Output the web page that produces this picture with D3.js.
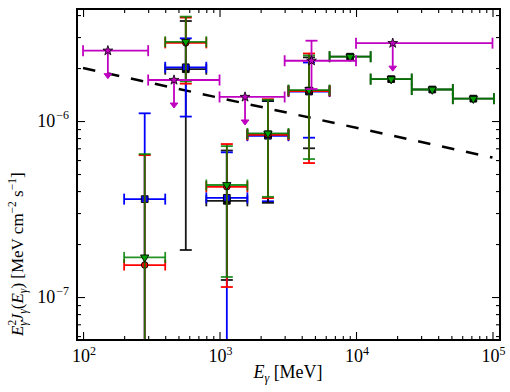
<!DOCTYPE html>
<html><head><meta charset="utf-8">
<script src="https://cdn.jsdelivr.net/npm/d3@7"></script>
<style>
body{margin:0;background:#fff}
svg{display:block}
text{font-family:"Liberation Serif","Times New Roman",serif;fill:#000}
</style>
</head><body>
<svg id="c" width="510" height="392"></svg>
<script>
// ---------- data ----------
const binE  = [283, 566, 1131, 2263, 4525, 9051, 18102, 36204, 72408];
const binLo = [200, 400, 800, 1600, 3200, 6400, 12800, 25600, 51200];
const binHi = [400, 800, 1600, 3200, 6400, 12800, 25600, 51200, 102400];
const OFF = 1e-9; // lower bound extends below the plotted range

const blackAVal = [null, 1.97e-6, 3.52e-7, null, null, null, null, null, null];
const blackAHi  = [null, 3.70e-6, 6.80e-7, null, null, null, null, null, null];
const blackALo  = [null, 1.85e-7, 1.25e-7, null, null, null, null, null, null];

const blueVal = [3.60e-7, 2.02e-6, 3.66e-7, 8.25e-7, 1.47e-6, null, null, null, null];
const blueHi  = [1.106e-6, 2.95e-6, 6.64e-7, 1.30e-6, 2.15e-6, null, null, null, null];
const blueLo  = [OFF, 1.06e-6, OFF, 3.50e-7, 8.04e-7, null, null, null, null];

const blackBVal = [null, null, null, 8.40e-7, 1.49e-6, 2.32e-6, 1.73e-6, 1.51e-6, 1.34e-6];
const blackBHi  = [null, null, null, 1.30e-6, 2.30e-6, null, null, null, null];
const blackBLo  = [null, null, null, 3.43e-7, 7.00e-7, null, null, null, null];

const redVal = [1.52e-7, 2.78e-6, 4.23e-7, 8.35e-7, 1.48e-6, null, null, null, null];
const redHi  = [6.40e-7, 3.87e-6, 7.40e-7, 1.33e-6, 2.42e-6, null, null, null, null];
const redLo  = [OFF, 1.63e-6, 1.14e-7, 3.65e-7, 5.77e-7, null, null, null, null];

const greenVal = [1.68e-7, 2.82e-6, 4.33e-7, 8.50e-7, 1.50e-6, 2.32e-6, 1.73e-6, 1.51e-6, 1.34e-6];
const greenHi  = [6.49e-7, 3.92e-6, 7.20e-7, 1.32e-6, 2.36e-6, null, null, null, null];
const greenLo  = [OFF, 1.68e-6, 1.30e-7, 3.71e-7, 6.08e-7, null, null, null, null];

// magenta: upper limits (stars with arrows) and one detection
const magE   = [152, 464, 1538, 4720, 18580];
const magLo  = [100, 300, 1000, 3000, 10000];
const magHi  = [300, 1000, 3000, 10000, 100000];
const magVal = [2.51e-6, 1.71e-6, 1.37e-6, 2.20e-6, 2.77e-6];
const magIsUL = [true, true, true, false, true];
const magErrHi = [null, null, null, 2.86e-6, null];
const magErrLo = [null, null, null, 1.52e-6, null];

// dashed model line
const lineE = [100, 100000];
const lineF = [2.0e-6, 6.2e-7];

// axis ticks
const xMajor = [1e2, 1e3, 1e4, 1e5];
const xMajorLabels = ["2", "3", "4", "5"];
const xMinor = [200,300,400,500,600,700,800,900,2000,3000,4000,5000,6000,7000,8000,9000,
                20000,30000,40000,50000,60000,70000,80000,90000];
const yMajor = [1e-7, 1e-6];
const yMajorLabels = ["\u22127", "\u22126"];
const yMinor = [6e-8,7e-8,8e-8,9e-8,2e-7,3e-7,4e-7,5e-7,6e-7,7e-7,8e-7,9e-7,2e-6,3e-6,4e-6];

// ---------- layout ----------
const L = 77, R = 500, T = 9, B = 340;
const svg = d3.select("#c");
const x = d3.scaleLog().domain([90.3, 113500]).range([L, R]);
const y = d3.scaleLog().domain([5.7e-8, 4.33e-6]).range([B, T]);

svg.append("defs").append("clipPath").attr("id","clip")
  .append("rect").attr("x",L).attr("y",T).attr("width",R-L).attr("height",B-T);

const plot = svg.append("g").attr("clip-path","url(#clip)");

// dashed line
plot.append("path")
  .datum(lineE.map((e,i)=>[e,lineF[i]]))
  .attr("d", d3.line().x(d=>x(d[0])).y(d=>y(d[1])))
  .attr("fill","none").attr("stroke","#000").attr("stroke-width",2.5)
  .attr("stroke-dasharray","12.5,12");

const LW = 1.8, CAPV = 6, CAPH = 5.5;

function hline(g, x1, x2, yy, color, op){
  g.append("line").attr("x1",x1).attr("x2",x2).attr("y1",yy).attr("y2",yy)
   .attr("stroke",color).attr("stroke-width",LW).attr("stroke-opacity",op);
}
function vline(g, xx, y1, y2, color, op){
  g.append("line").attr("x1",xx).attr("x2",xx).attr("y1",y1).attr("y2",y2)
   .attr("stroke",color).attr("stroke-width",LW).attr("stroke-opacity",op);
}

function drawSeries(vals, los, his, color, symType, symSize, fill, rot, op){
  const g = plot.append("g");
  vals.forEach((v,i)=>{
    if(v==null) return;
    const yy = y(v), xa = x(binLo[i]), xb = x(binHi[i]), xc = x(binE[i]);
    hline(g, xa, xb, yy, color, op);
    vline(g, xa, yy-CAPH, yy+CAPH, color, op);
    vline(g, xb, yy-CAPH, yy+CAPH, color, op);
    if(los[i]!=null){
      const y1 = y(los[i]), y2 = y(his[i]);
      vline(g, xc, y1, y2, color, op);
      hline(g, xc-CAPV, xc+CAPV, y1, color, op);
      hline(g, xc-CAPV, xc+CAPV, y2, color, op);
    }
  });
  vals.forEach((v,i)=>{
    if(v==null) return;
    g.append("path")
     .attr("d", d3.symbol().type(symType).size(symSize)())
     .attr("transform",`translate(${x(binE[i])},${y(v)}) rotate(${rot})`)
     .attr("fill",fill).attr("stroke","#000").attr("stroke-width",0.9);
  });
}

drawSeries(blackAVal, blackALo, blackAHi, "#000", d3.symbolSquare, 46, "#000", 0, 0.9);
drawSeries(blueVal, blueLo, blueHi, "#0000ff", d3.symbolSquare, 46, "#0000ff", 0, 1);
drawSeries(blackBVal, blackBLo, blackBHi, "#000", d3.symbolSquare, 46, "#000", 0, 0.9);
drawSeries(redVal, redLo, redHi, "#ff0000", d3.symbolCircle, 34, "#ff0000", 0, 1);
drawSeries(greenVal, greenLo, greenHi, "#008000", d3.symbolTriangle, 30, "#00a000", 180, 0.85);

// magenta
const MAG = "#c000c0";
const mg = plot.append("g");
magVal.forEach((v,i)=>{
  const yy = y(v), xa = x(magLo[i]), xb = x(magHi[i]), xc = x(magE[i]);
  hline(mg, xa, xb, yy, MAG, 1);
  vline(mg, xa, yy-CAPH, yy+CAPH, MAG, 1);
  vline(mg, xb, yy-CAPH, yy+CAPH, MAG, 1);
  if(magIsUL[i]){
    const tip = yy + 28;
    vline(mg, xc, yy, tip-3, MAG, 1);
    mg.append("path")
      .attr("d", `M${xc-3.8},${tip-5}L${xc+3.8},${tip-5}L${xc},${tip}Z`)
      .attr("fill",MAG).attr("stroke",MAG).attr("stroke-width",1).attr("stroke-linejoin","round");
  } else {
    const y1 = y(magErrLo[i]), y2 = y(magErrHi[i]);
    vline(mg, xc, y1, y2, MAG, 1);
    hline(mg, xc-CAPV, xc+CAPV, y2, MAG, 1);
    hline(mg, xc-CAPV, xc+CAPV, y1, MAG, 1);
  }
});
magVal.forEach((v,i)=>{
  mg.append("path")
    .attr("d", d3.symbol().type(d3.symbolStar).size(30)())
    .attr("transform",`translate(${x(magE[i])},${y(v)})`)
    .attr("fill",MAG).attr("stroke","#000").attr("stroke-width",0.8);
});

// ---------- axes (ticks inward on all sides) ----------
function addAxis(axisFn, scale, vals, size, tr){
  const g = svg.append("g").attr("transform",tr)
    .call(axisFn(scale).tickValues(vals).tickSize(size).tickFormat(""));
  g.select(".domain").remove();
  g.selectAll(".tick line").attr("stroke","#000").attr("stroke-width",1.1);
}
addAxis(d3.axisBottom, x, xMajor, -8, `translate(0,${B})`);
addAxis(d3.axisBottom, x, xMinor, -4, `translate(0,${B})`);
addAxis(d3.axisTop, x, xMajor, -8, `translate(0,${T})`);
addAxis(d3.axisTop, x, xMinor, -4, `translate(0,${T})`);
addAxis(d3.axisLeft, y, yMajor, -8, `translate(${L},0)`);
addAxis(d3.axisLeft, y, yMinor, -4, `translate(${L},0)`);
addAxis(d3.axisRight, y, yMajor, -8, `translate(${R},0)`);
addAxis(d3.axisRight, y, yMinor, -4, `translate(${R},0)`);

svg.append("rect").attr("x",L).attr("y",T).attr("width",R-L).attr("height",B-T)
  .attr("fill","none").attr("stroke","#000").attr("stroke-width",2);

// tick labels
const FS = 18, FSS = 12;
xMajor.forEach((v,i)=>{
  const t = svg.append("text").attr("x",x(v)+1).attr("y",362).attr("text-anchor","middle")
    .attr("font-size",FS);
  t.append("tspan").text("10");
  t.append("tspan").attr("font-size",FSS).attr("dy",-7).text(xMajorLabels[i]);
});
yMajor.forEach((v,i)=>{
  const t = svg.append("text").attr("x",69).attr("y",y(v)+6).attr("text-anchor","end")
    .attr("font-size",FS);
  t.append("tspan").text("10");
  t.append("tspan").attr("font-size",FSS).attr("dy",-8).attr("dx",1).text(yMajorLabels[i]);
});

// x label
const xl = svg.append("text").attr("x",288).attr("y",378).attr("text-anchor","middle").attr("font-size",FS);
xl.append("tspan").attr("font-style","italic").text("E");
xl.append("tspan").attr("font-size",FSS).attr("font-style","italic").attr("dy",4).text("\u03b3");
xl.append("tspan").attr("dy",-4).text(" [MeV]");

// y label
const YF = 17, YFS = 11.5;
const yl = svg.append("text").attr("transform","translate(23,336) rotate(-90)")
  .attr("text-anchor","start").attr("font-size",YF);
yl.append("tspan").attr("font-style","italic").text("E");
yl.append("tspan").attr("font-size",YFS).attr("dy",-7).text("2");
yl.append("tspan").attr("font-size",YFS).attr("font-style","italic").attr("dx",-6).attr("dy",11).text("\u03b3");
yl.append("tspan").attr("font-style","italic").attr("dy",-4).text("J");
yl.append("tspan").attr("font-size",YFS).attr("font-style","italic").attr("dy",4).text("\u03b3");
yl.append("tspan").attr("dy",-4).text("(");
yl.append("tspan").attr("font-style","italic").text("E");
yl.append("tspan").attr("font-size",YFS).attr("font-style","italic").attr("dy",4).text("\u03b3");
yl.append("tspan").attr("dy",-4).text(") [MeV cm");
yl.append("tspan").attr("font-size",YFS).attr("dy",-7).text("\u22122");
yl.append("tspan").attr("dy",7).text(" s");
yl.append("tspan").attr("font-size",YFS).attr("dy",-7).text("\u22121");
yl.append("tspan").attr("dy",7).text("]");
</script>
</body></html>
